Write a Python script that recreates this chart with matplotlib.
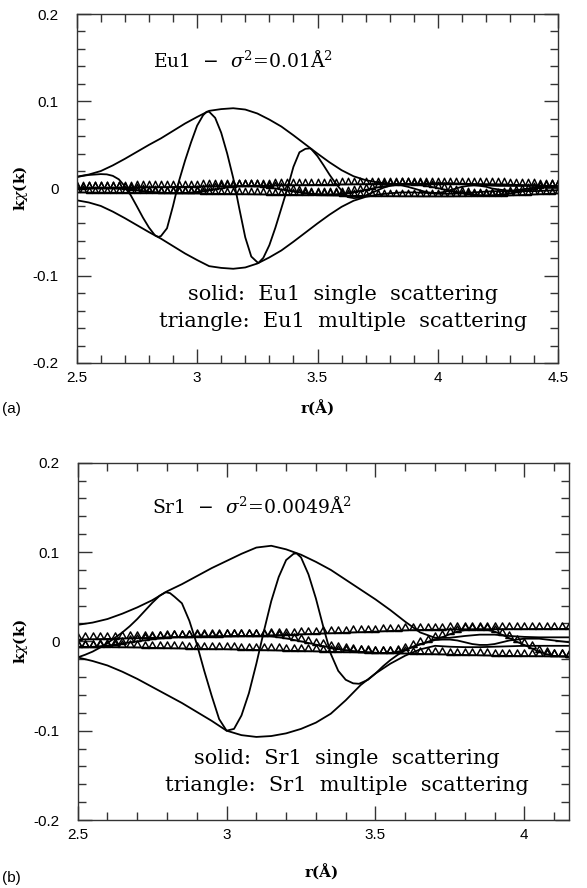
import numpy as np
import matplotlib
matplotlib.use('Agg')
import matplotlib.pyplot as plt
from matplotlib.path import Path
from matplotlib.ticker import MultipleLocator, FixedLocator, FixedFormatter

plt.rcParams['axes.unicode_minus'] = False
plt.rcParams['mathtext.fontset'] = 'dejavuserif'
plt.rcParams['font.family'] = ['Liberation Sans', 'DejaVu Sans']

# ---------------- data : panel (a) Eu1 ----------------
r_env_a = np.round(np.arange(2.5, 4.5001, 0.05), 3)
ss_mag_a = [0.0135, 0.016, 0.020, 0.0265, 0.034, 0.042, 0.050, 0.0575, 0.066, 0.0745,
            0.082, 0.089, 0.091, 0.092, 0.0905, 0.086, 0.079, 0.071, 0.061, 0.0505,
            0.040, 0.030, 0.021, 0.014, 0.0096, 0.007, 0.0055, 0.0045, 0.0045, 0.005,
            0.006, 0.006, 0.0055, 0.0045, 0.0035, 0.003, 0.003, 0.003, 0.003, 0.0025,
            0.002]

r_re_a = [2.500, 2.525, 2.550, 2.575, 2.600, 2.625, 2.650, 2.675, 2.700, 2.725,
          2.750, 2.775, 2.800, 2.825, 2.839, 2.850, 2.875, 2.900, 2.925, 2.950,
          2.975, 3.000, 3.025, 3.040, 3.050, 3.075, 3.100, 3.125, 3.150, 3.175,
          3.200, 3.225, 3.254, 3.275, 3.300, 3.325, 3.350, 3.375, 3.400, 3.425,
          3.450, 3.469, 3.475, 3.500, 3.525, 3.550, 3.575, 3.600, 3.625, 3.650,
          3.676, 3.700, 3.725, 3.750, 3.775, 3.800, 3.825, 3.850, 3.875, 3.900,
          3.925, 3.950, 3.975, 4.000, 4.025, 4.050, 4.075, 4.100, 4.125, 4.150,
          4.175, 4.200, 4.225, 4.250, 4.275, 4.300, 4.325, 4.350, 4.375, 4.400,
          4.425, 4.450, 4.475, 4.500]
ss_re_a = [0.0130, 0.0145, 0.0155, 0.0160, 0.0165, 0.0162, 0.0145, 0.0105, 0.0025, -0.0080,
           -0.0205, -0.0333, -0.0447, -0.0537, -0.0555, -0.0545, -0.0456, -0.0200, 0.0088, 0.0320,
           0.0530, 0.0720, 0.0840, 0.0880, 0.0880, 0.0810, 0.0640, 0.0400, 0.0120, -0.0226,
           -0.0560, -0.0780, -0.0855, -0.0795, -0.0650, -0.0450, -0.0226, 0.0000, 0.0248, 0.0415,
           0.0455, 0.0460, 0.0449, 0.0370, 0.0267, 0.0158, 0.0060, -0.0024, -0.0098, -0.0110,
           -0.0105, -0.0080, -0.0050, -0.0020, 0.0010, 0.0030, 0.0040, 0.0035, 0.0020, 0.0000,
           -0.0020, -0.0040, -0.0050, -0.0050, -0.0040, -0.0020, 0.0000, 0.0020, 0.0030, 0.0035,
           0.0030, 0.0020, 0.0000, -0.0010, -0.0020, -0.0025, -0.0020, -0.0010, 0.0000, 0.0010,
           0.0020, 0.0020, 0.0015, 0.0010]

r_ms_a = np.round(np.arange(2.5, 4.5001, 0.025), 3)
ms_up_a = [0.0002, 0.0003, 0.0004, 0.0005, 0.0006, 0.0007, 0.0008, 0.0009, 0.0010, 0.0011,
           0.0012, 0.0013, 0.0014, 0.0015, 0.0016, 0.0017, 0.0018, 0.0019, 0.0020, 0.0021,
           0.0022, 0.0023, 0.0024, 0.0025, 0.0026, 0.0027, 0.0028, 0.0029, 0.0030, 0.0031,
           0.0032, 0.0033, 0.0034, 0.0035, 0.0036, 0.0037, 0.0038, 0.0039, 0.0040, 0.0041,
           0.0042, 0.0043, 0.0044, 0.0045, 0.0046, 0.0047, 0.0048, 0.0049, 0.0050, 0.0051,
           0.0052, 0.0052, 0.0053, 0.0053, 0.0054, 0.0054, 0.0055, 0.0055, 0.0055, 0.0055,
           0.0055, 0.0055, 0.0055, 0.0054, 0.0054, 0.0053, 0.0052, 0.0051, 0.0050, 0.0049,
           0.0048, 0.0046, 0.0044, 0.0042, 0.0040, 0.0038, 0.0036, 0.0034, 0.0032, 0.0030,
           0.0028]
ms_lo_a = [-0.0045, -0.0045, -0.0046, -0.0046, -0.0047, -0.0047, -0.0048, -0.0048, -0.0049, -0.0049,
           -0.0050, -0.0051, -0.0051, -0.0052, -0.0053, -0.0053, -0.0054, -0.0055, -0.0055, -0.0056,
           -0.0057, -0.0058, -0.0059, -0.0060, -0.0061, -0.0062, -0.0063, -0.0064, -0.0065, -0.0066,
           -0.0067, -0.0068, -0.0069, -0.0070, -0.0071, -0.0072, -0.0073, -0.0074, -0.0075, -0.0076,
           -0.0077, -0.0078, -0.0079, -0.0080, -0.0081, -0.0082, -0.0083, -0.0084, -0.0085, -0.0086,
           -0.0087, -0.0087, -0.0088, -0.0088, -0.0089, -0.0089, -0.0089, -0.0090, -0.0090, -0.0090,
           -0.0090, -0.0090, -0.0090, -0.0089, -0.0089, -0.0088, -0.0088, -0.0087, -0.0086, -0.0085,
           -0.0083, -0.0081, -0.0079, -0.0077, -0.0074, -0.0071, -0.0068, -0.0065, -0.0062, -0.0059,
           -0.0056]
ms_re_a = [-0.0010, -0.0005, 0.0000, 0.0004, 0.0006, 0.0006, 0.0004, 0.0000, -0.0006, -0.0013,
           -0.0021, -0.0029, -0.0036, -0.0042, -0.0047, -0.0050, -0.0052, -0.0052, -0.0050, -0.0046,
           -0.0039, -0.0030, -0.0020, -0.0009, 0.0002, 0.0012, 0.0020, 0.0025, 0.0027, 0.0027,
           0.0024, 0.0018, 0.0010, 0.0000, -0.0011, -0.0022, -0.0033, -0.0043, -0.0052, -0.0059,
           -0.0064, -0.0067, -0.0068, -0.0066, -0.0061, -0.0053, -0.0042, -0.0029, -0.0015, -0.0001,
           0.0013, 0.0025, 0.0035, 0.0042, 0.0046, 0.0047, 0.0045, 0.0039, 0.0030, 0.0018,
           0.0004, -0.0011, -0.0026, -0.0040, -0.0053, -0.0063, -0.0071, -0.0076, -0.0078, -0.0077,
           -0.0073, -0.0066, -0.0056, -0.0044, -0.0031, -0.0017, -0.0004, 0.0008, 0.0018, 0.0024,
           0.0026]

# ---------------- data : panel (b) Sr1 ----------------
r_env_b = np.round(np.arange(2.5, 4.1501, 0.05), 3)
ss_up_b = [0.0185, 0.021, 0.025, 0.031, 0.038, 0.046, 0.056, 0.064, 0.073, 0.082,
           0.090, 0.098, 0.105, 0.107, 0.103, 0.097, 0.089, 0.080, 0.069, 0.058,
           0.047, 0.035, 0.022, 0.010, 0.004, 0.004, 0.006, 0.0075, 0.0075, 0.006,
           0.005, 0.0045, 0.0045, 0.0045]
ss_lo_b = [-0.018, -0.022, -0.027, -0.034, -0.042, -0.051, -0.060, -0.069, -0.079, -0.089,
           -0.100, -0.105, -0.107, -0.106, -0.103, -0.098, -0.091, -0.081, -0.066, -0.049,
           -0.036, -0.025, -0.016, -0.009, -0.005, -0.006, -0.0065, -0.0065, -0.006, -0.0055,
           -0.005, -0.005, -0.005, -0.005]

r_re_b = [2.500, 2.525, 2.550, 2.575, 2.600, 2.625, 2.650, 2.675, 2.700, 2.725,
          2.750, 2.775, 2.795, 2.810, 2.825, 2.850, 2.875, 2.900, 2.925, 2.950,
          2.975, 3.000, 3.025, 3.050, 3.075, 3.100, 3.125, 3.150, 3.175, 3.200,
          3.225, 3.235, 3.250, 3.275, 3.300, 3.325, 3.350, 3.375, 3.400, 3.425,
          3.445, 3.475, 3.500, 3.525, 3.550, 3.575, 3.600, 3.625, 3.650, 3.675,
          3.700, 3.725, 3.750, 3.775, 3.800, 3.825, 3.850, 3.875, 3.900, 3.925,
          3.950, 3.975, 4.000, 4.025, 4.050, 4.075, 4.100, 4.125, 4.150]
ss_re_b = [-0.0180, -0.0150, -0.0115, -0.0070, -0.0020, 0.0040, 0.0100, 0.0170, 0.0250, 0.0340,
           0.0430, 0.0510, 0.0550, 0.0540, 0.0500, 0.0426, 0.0230, -0.0030, -0.0330, -0.0610,
           -0.0870, -0.1000, -0.0980, -0.0830, -0.0580, -0.0250, 0.0110, 0.0450, 0.0720, 0.0910,
           0.0980, 0.0985, 0.0940, 0.0750, 0.0480, 0.0160, -0.0140, -0.0330, -0.0430, -0.0470,
           -0.0475, -0.0430, -0.0360, -0.0280, -0.0210, -0.0150, -0.0100, -0.0060, -0.0030, -0.0010,
           0.0015, 0.0020, 0.0020, 0.0010, -0.0010, -0.0030, -0.0040, -0.0040, -0.0030, -0.0010,
           0.0010, 0.0020, 0.0030, 0.0030, 0.0030, 0.0020, 0.0010, 0.0000, -0.0010]

r_ms_b = np.round(np.arange(2.5, 4.1501, 0.025), 3)
ms_up_b = [0.0020, 0.0022, 0.0024, 0.0026, 0.0028, 0.0030, 0.0032, 0.0034, 0.0036, 0.0038,
           0.0040, 0.0042, 0.0044, 0.0046, 0.0048, 0.0050, 0.0051, 0.0052, 0.0053, 0.0054,
           0.0055, 0.0057, 0.0059, 0.0061, 0.0063, 0.0065, 0.0067, 0.0070, 0.0073, 0.0076,
           0.0079, 0.0082, 0.0085, 0.0088, 0.0091, 0.0094, 0.0097, 0.0100, 0.0103, 0.0106,
           0.0110, 0.0113, 0.0117, 0.0120, 0.0123, 0.0126, 0.0128, 0.0130, 0.0131, 0.0132,
           0.0133, 0.0134, 0.0135, 0.0135, 0.0136, 0.0136, 0.0137, 0.0137, 0.0138, 0.0138,
           0.0138, 0.0139, 0.0139, 0.0139, 0.0140, 0.0140, 0.0140]
ms_lo_b = [-0.0060, -0.0061, -0.0062, -0.0063, -0.0064, -0.0065, -0.0066, -0.0067, -0.0068, -0.0070,
           -0.0072, -0.0074, -0.0076, -0.0078, -0.0080, -0.0082, -0.0084, -0.0085, -0.0086, -0.0087,
           -0.0088, -0.0090, -0.0092, -0.0094, -0.0096, -0.0098, -0.0100, -0.0102, -0.0104, -0.0106,
           -0.0108, -0.0110, -0.0112, -0.0114, -0.0116, -0.0118, -0.0120, -0.0122, -0.0124, -0.0126,
           -0.0128, -0.0130, -0.0132, -0.0134, -0.0136, -0.0138, -0.0140, -0.0142, -0.0144, -0.0146,
           -0.0148, -0.0150, -0.0152, -0.0154, -0.0156, -0.0158, -0.0160, -0.0161, -0.0162, -0.0163,
           -0.0164, -0.0165, -0.0166, -0.0167, -0.0168, -0.0169, -0.0170]
ms_re_b = [-0.0060, -0.0061, -0.0060, -0.0055, -0.0047, -0.0037, -0.0025, -0.0012, 0.0000, 0.0012,
           0.0023, 0.0033, 0.0041, 0.0047, 0.0051, 0.0053, 0.0055, 0.0056, 0.0057, 0.0058,
           0.0059, 0.0060, 0.0061, 0.0062, 0.0062, 0.0060, 0.0055, 0.0046, 0.0033, 0.0017,
           0.0000, -0.0018, -0.0036, -0.0054, -0.0070, -0.0085, -0.0098, -0.0108, -0.0116, -0.0122,
           -0.0127, -0.0130, -0.0128, -0.0115, -0.0093, -0.0065, -0.0035, -0.0005, 0.0022, 0.0048,
           0.0080, 0.0110, 0.0125, 0.0130, 0.0132, 0.0128, 0.0110, 0.0075, 0.0035, -0.0005,
           -0.0040, -0.0080, -0.0115, -0.0145, -0.0162, -0.0168, -0.0170]

y_ticks = [-0.2, -0.1, 0.0, 0.1, 0.2]
y_ticklabels = ['-0.2', '-0.1', '0', '0.1', '0.2']
x_ticks_a = [2.5, 3.0, 3.5, 4.0, 4.5]
x_ticklabels_a = ['2.5', '3', '3.5', '4', '4.5']
x_ticks_b = [2.5, 3.0, 3.5, 4.0]
x_ticklabels_b = ['2.5', '3', '3.5', '4']

title_a = r'Eu1  $-$  $\sigma^2$=0.01Å$^2$'
title_b = r'Sr1  $-$  $\sigma^2$=0.0049Å$^2$'
note_a = ['solid:  Eu1  single  scattering', 'triangle:  Eu1  multiple  scattering']
note_b = ['solid:  Sr1  single  scattering', 'triangle:  Sr1  multiple  scattering']

# ---------------- figure ----------------
W, H = 587, 888
fig = plt.figure(figsize=(W / 100, H / 100), dpi=100)


def px_axes(l, t, r, b):
    return fig.add_axes([l / W, 1 - b / H, (r - l) / W, (b - t) / H])


ax1 = px_axes(76.7, 14, 558.3, 363)
ax2 = px_axes(77.7, 462.7, 569, 820)

tri = Path([(-1, 0), (1, 0), (0, 1.8), (-1, 0)],
           [Path.MOVETO, Path.LINETO, Path.LINETO, Path.CLOSEPOLY])
tri_small = Path([(-0.85, 0), (0.85, 0), (0, 1.8), (-0.85, 0)],
                 [Path.MOVETO, Path.LINETO, Path.LINETO, Path.CLOSEPOLY])

SERIF = 'DejaVu Serif'
LW = 1.3


def style(ax, xmax, xt, xl):
    ax.set_xlim(2.5, xmax)
    ax.set_ylim(-0.2, 0.2)
    ax.xaxis.set_major_locator(FixedLocator(xt))
    ax.xaxis.set_major_formatter(FixedFormatter(xl))
    ax.xaxis.set_minor_locator(MultipleLocator(0.1))
    ax.yaxis.set_major_locator(FixedLocator(y_ticks))
    ax.yaxis.set_major_formatter(FixedFormatter(y_ticklabels))
    ax.yaxis.set_minor_locator(MultipleLocator(0.02))
    ax.tick_params(which='both', direction='in', top=True, right=True,
                   width=1.0, color='#333333')
    ax.tick_params(which='major', length=10)
    ax.tick_params(which='minor', length=5.5)
    ax.tick_params(axis='x', which='major', pad=6, labelsize=11)
    ax.tick_params(axis='y', which='major', pad=13, labelsize=11)
    for s in ax.spines.values():
        s.set_linewidth(1.0)
        s.set_color('#333333')


# panel (a)
ms_kw_a = dict(color='black', lw=1.2, marker=tri_small, ms=9, mfc='none',
               mec='black', mew=1.05)
ax1.plot(r_ms_a, ms_up_a, **ms_kw_a)
ax1.plot(r_ms_a, ms_lo_a, **ms_kw_a)
ax1.plot(r_ms_a, ms_re_a, **ms_kw_a)
ax1.plot(r_env_a, ss_mag_a, color='black', lw=LW)
ax1.plot(r_env_a, -np.array(ss_mag_a), color='black', lw=LW)
ax1.plot(r_re_a, ss_re_a, color='black', lw=LW)
style(ax1, 4.5, x_ticks_a, x_ticklabels_a)

ax1.text(2.818, 0.147, title_a, family=SERIF, fontsize=13.5, va='center', ha='left')
ax1.text(3.606, -0.122, note_a[0], family=SERIF, fontsize=15, va='center', ha='center')
ax1.text(3.606, -0.152, note_a[1], family=SERIF, fontsize=15, va='center', ha='center')

# panel (b)
ms_kw_b = dict(color='black', lw=1.2, marker=tri, ms=9.5, mfc='none',
               mec='black', mew=1.05)
ax2.plot(r_ms_b, ms_up_b, **ms_kw_b)
ax2.plot(r_ms_b, ms_lo_b, **ms_kw_b)
ax2.plot(r_ms_b, ms_re_b, **ms_kw_b)
ax2.plot(r_env_b, ss_up_b, color='black', lw=LW)
ax2.plot(r_env_b, ss_lo_b, color='black', lw=LW)
ax2.plot(r_re_b, ss_re_b, color='black', lw=LW)
style(ax2, 4.15, x_ticks_b, x_ticklabels_b)

ax2.text(2.749, 0.151, title_b, family=SERIF, fontsize=13.5, va='center', ha='left')
ax2.text(3.405, -0.131, note_b[0], family=SERIF, fontsize=15, va='center', ha='center')
ax2.text(3.405, -0.161, note_b[1], family=SERIF, fontsize=15, va='center', ha='center')

# axis labels and panel tags
for yc in (188.5, 641.5):
    fig.text(20 / W, 1 - yc / H, r'k$\chi$(k)', family=SERIF, fontsize=11,
             fontweight='bold', rotation=90, ha='center', va='center')
fig.text(318 / W, 1 - 409 / H, 'r(Å)', family=SERIF, fontsize=11,
         fontweight='bold', ha='center', va='center')
fig.text(322 / W, 1 - 873 / H, 'r(Å)', family=SERIF, fontsize=11,
         fontweight='bold', ha='center', va='center')
fig.text(2 / W, 1 - 409 / H, '(a)', fontsize=11, ha='left', va='center')
fig.text(2 / W, 1 - 878 / H, '(b)', fontsize=11, ha='left', va='center')

fig.savefig('out.png', dpi=100)
